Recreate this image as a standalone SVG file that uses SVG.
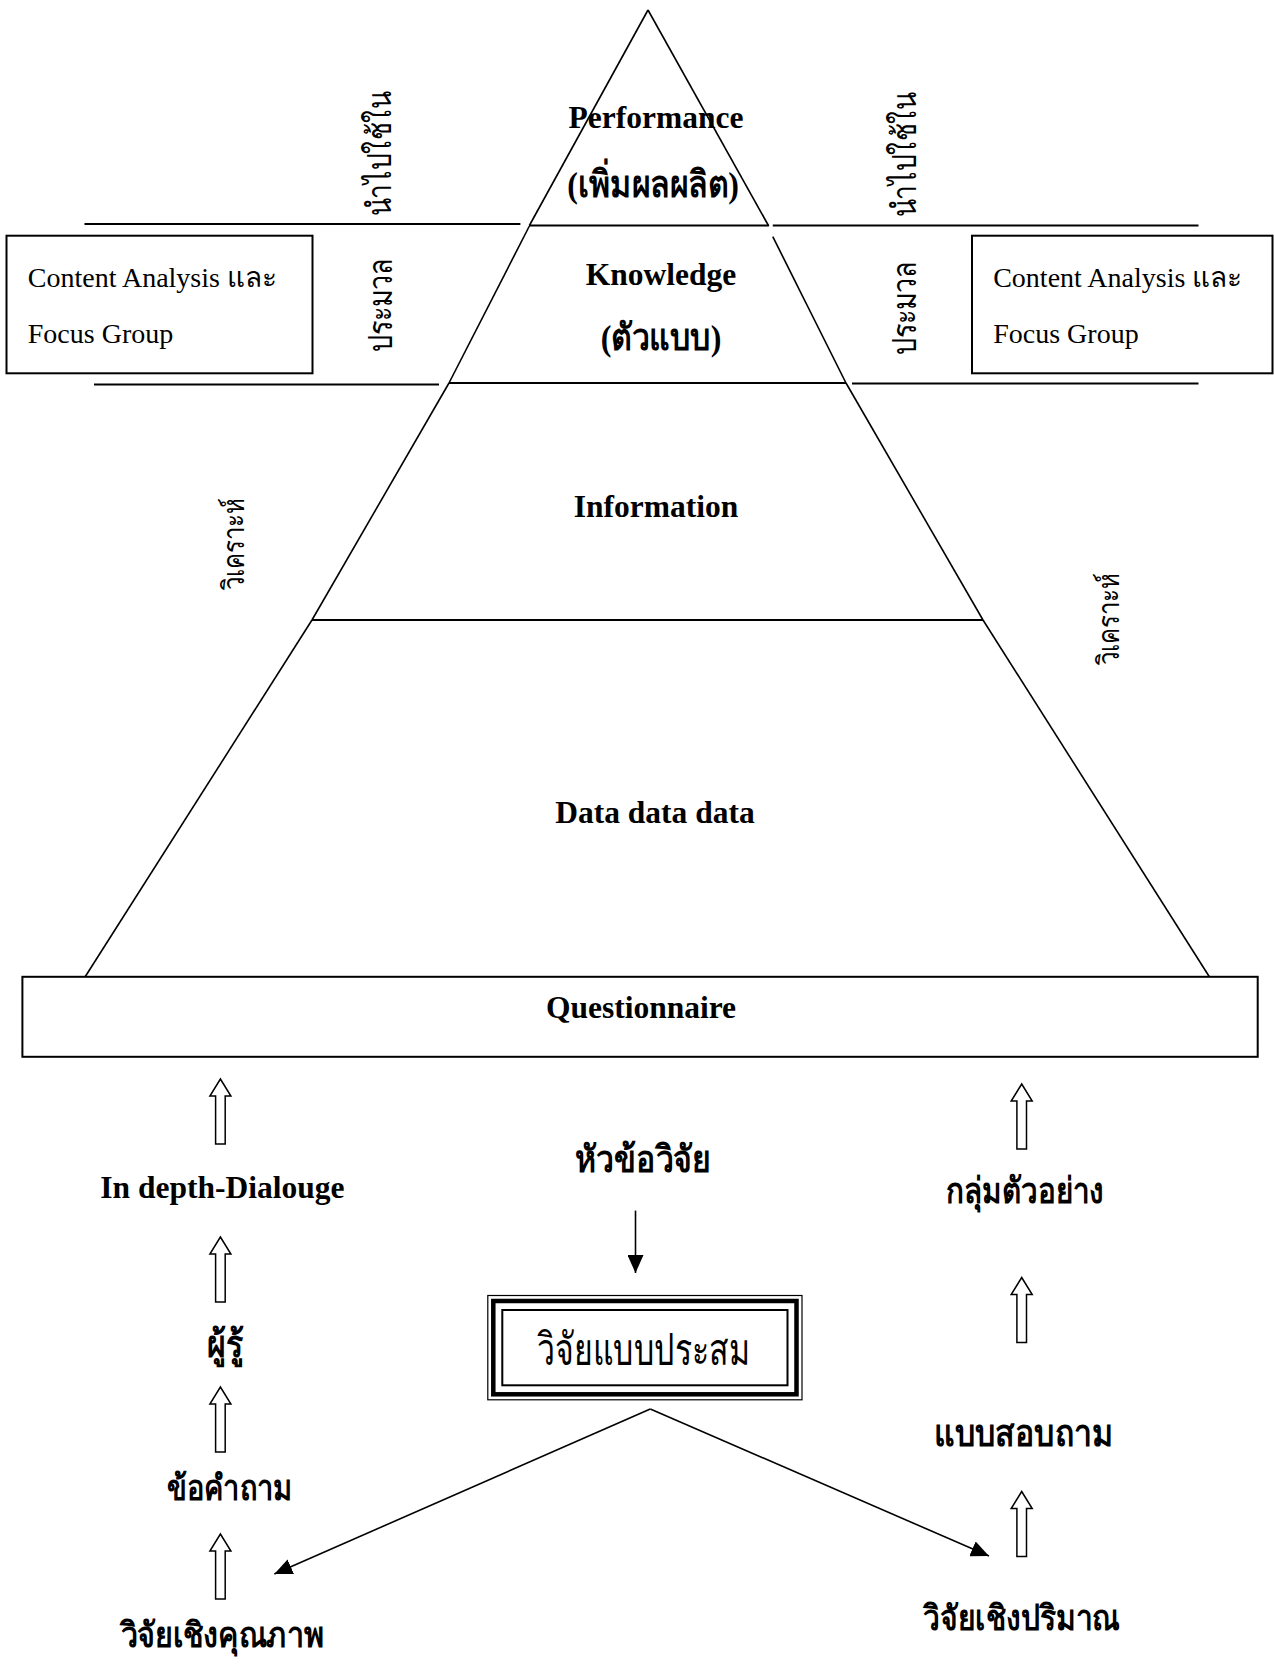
<svg xmlns="http://www.w3.org/2000/svg" width="1274" height="1665" viewBox="0 0 1274 1665">
<defs>
<style>
.ln{stroke:#000;stroke-width:1.6;fill:none}
.hl{stroke:#000;stroke-width:2;fill:none}
.bx{fill:#fff;stroke:#000;stroke-width:2}
.lb{font-family:"Liberation Serif",serif;font-weight:bold;font-size:31.5px;text-anchor:middle;fill:#000}
.rg{font-family:"Liberation Serif",serif;font-size:28px;fill:#000}
.th{font-family:"Liberation Serif",serif;font-weight:bold;font-size:32px;text-anchor:middle;fill:#000}
.tr{font-family:"Liberation Serif",serif;font-size:32px;text-anchor:middle;fill:#000}
.vt{font-family:"Liberation Serif",serif;font-size:24px;text-anchor:middle;fill:#000}
.ha{fill:#fff;stroke:#000;stroke-width:1.5;stroke-linejoin:miter}
.ar{stroke:#000;stroke-width:1.6;fill:none}
</style>
<marker id="ah" markerUnits="userSpaceOnUse" markerWidth="18" markerHeight="16" refX="18" refY="8" orient="auto" viewBox="0 0 18 16">
<path d="M0,0 L18,8 L0,16 Z" fill="#000"/>
</marker>
<path id="hollow" d="M0,0 L10.5,17 L4.8,17 L4.8,65 L-4.8,65 L-4.8,17 L-10.5,17 Z"/>
</defs>
<rect width="1274" height="1665" fill="#fff"/>

<g id="pyramid">
<line class="ln" x1="648" y1="10" x2="529.4" y2="225.5"/>
<line class="ln" x1="648" y1="10" x2="768.7" y2="226"/>
<line class="ln" x1="529.4" y1="226" x2="449" y2="383"/>
<line class="ln" x1="772.8" y1="236.7" x2="846" y2="383"/>
<line class="ln" x1="449" y1="383" x2="312" y2="620"/>
<line class="ln" x1="846" y1="383" x2="983" y2="620"/>
<line class="ln" x1="312" y1="620" x2="85" y2="977"/>
<line class="ln" x1="983" y1="620" x2="1209.5" y2="977"/>
<line class="hl" x1="529" y1="225.5" x2="768.7" y2="225.5"/>
<line class="hl" x1="449" y1="383" x2="846" y2="383"/>
<line class="hl" x1="312" y1="620" x2="983" y2="620"/>
</g>

<g id="dividers">
<line class="hl" x1="84.5" y1="224" x2="520.4" y2="224"/>
<line class="hl" x1="772.8" y1="225.5" x2="1198.5" y2="225.5"/>
<line class="hl" x1="94" y1="384.5" x2="439" y2="384.5"/>
<line class="hl" x1="852" y1="383.5" x2="1198.5" y2="383.5"/>
</g>

<g id="performance">
<text class="lb" x="656" y="128">Performance</text>
<text class="th" transform="translate(653,197) scale(1,1.15)">(เพิ่มผลผลิต)</text>
</g>
<g id="knowledge">
<text class="lb" x="661" y="285">Knowledge</text>
<text class="th" transform="translate(661,350) scale(1,1.15)">(ตัวแบบ)</text>
</g>
<g id="information">
<text class="lb" x="656" y="517">Information</text>
</g>
<g id="data">
<text class="lb" x="655" y="823">Data data data</text>
</g>

<g id="box-left">
<rect class="bx" x="6.5" y="235.7" width="306" height="137.6"/>
<text class="rg" x="27.8" y="287">Content Analysis และ</text>
<text class="rg" x="27.8" y="343">Focus Group</text>
</g>
<g id="box-right">
<rect class="bx" x="972" y="235.7" width="300.5" height="137.6"/>
<text class="rg" x="993.2" y="287">Content Analysis และ</text>
<text class="rg" x="993.2" y="343">Focus Group</text>
</g>

<g id="side-labels">
<text class="vt" style="font-size:26.5px" transform="translate(391,154) rotate(-90) scale(1,1.25)">นำไปใช้ใน</text>
<text class="vt" style="font-size:27px" transform="translate(392,305) rotate(-90) scale(1,1.25)">ประมวล</text>
<text class="vt" style="font-size:26.5px" transform="translate(916,155) rotate(-90) scale(1,1.25)">นำไปใช้ใน</text>
<text class="vt" style="font-size:27px" transform="translate(916,308) rotate(-90) scale(1,1.25)">ประมวล</text>
<text class="vt" transform="translate(244,544) rotate(-90) scale(1,1.25)">วิเคราะห์</text>
<text class="vt" transform="translate(1119,619) rotate(-90) scale(1,1.25)">วิเคราะห์</text>
</g>

<g id="questionnaire">
<rect class="bx" x="22.4" y="976.8" width="1235.3" height="80"/>
<text class="lb" x="641" y="1018">Questionnaire</text>
</g>

<g id="in-depth">
<text class="lb" x="222.4" y="1198">In depth-Dialouge</text>
</g>
<g id="expert"><text class="th" transform="translate(225.5,1357) scale(1,1.15)">ผู้รู้</text></g>
<g id="question-items"><text class="th" style="font-size:29px" transform="translate(229.6,1500) scale(1,1.2)">ข้อคำถาม</text></g>
<g id="qualitative"><text class="th" style="font-size:30.5px" transform="translate(222.4,1647) scale(1,1.15)">วิจัยเชิงคุณภาพ</text></g>
<g id="topic"><text class="th" transform="translate(642.7,1172) scale(1,1.15)">หัวข้อวิจัย</text></g>
<g id="sample"><text class="th" style="font-size:29.6px" transform="translate(1025,1203) scale(1,1.2)">กลุ่มตัวอย่าง</text></g>
<g id="survey"><text class="th" transform="translate(1023.7,1446) scale(1,1.15)">แบบสอบถาม</text></g>
<g id="quantitative"><text class="th" style="font-size:30px" transform="translate(1021.8,1629.5) scale(1,1.15)">วิจัยเชิงปริมาณ</text></g>

<g id="mixed">
<rect x="487.8" y="1295.5" width="314.2" height="104.3" fill="#fff" stroke="#000" stroke-width="1.2"/>
<rect x="493.3" y="1301" width="303.2" height="93.3" fill="none" stroke="#000" stroke-width="4.5"/>
<rect x="502.3" y="1310" width="285.2" height="75.3" fill="none" stroke="#000" stroke-width="2"/>
<text class="tr" transform="translate(643.5,1365) scale(1,1.4)">วิจัยแบบประสม</text>
</g>

<g id="connectors">
<line class="ar" x1="635.5" y1="1210.6" x2="635.5" y2="1273" marker-end="url(#ah)"/>
<line class="ar" x1="650.3" y1="1409" x2="274.3" y2="1574" marker-end="url(#ah)"/>
<line class="ar" x1="650.3" y1="1409" x2="989" y2="1556" marker-end="url(#ah)"/>
<use href="#hollow" class="ha" x="220.4" y="1079"/>
<use href="#hollow" class="ha" x="220.4" y="1237"/>
<use href="#hollow" class="ha" x="220.4" y="1387"/>
<use href="#hollow" class="ha" x="220.4" y="1534"/>
<use href="#hollow" class="ha" x="1021.7" y="1084"/>
<use href="#hollow" class="ha" x="1021.7" y="1277.5"/>
<use href="#hollow" class="ha" x="1021.7" y="1491.5"/>
</g>
</svg>
